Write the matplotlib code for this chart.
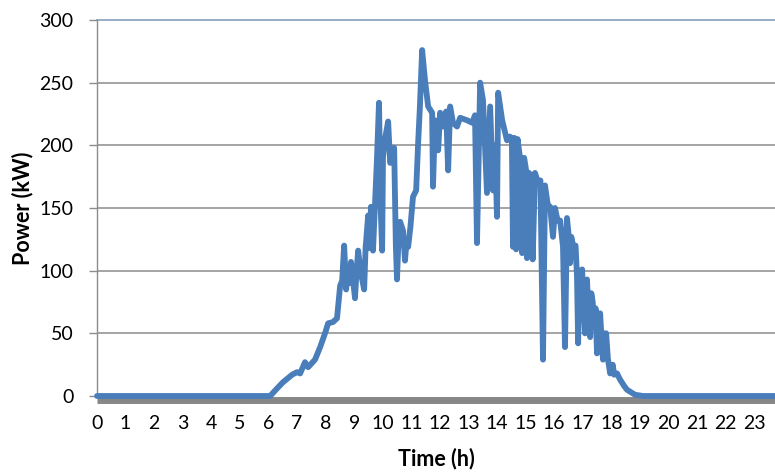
import matplotlib
matplotlib.use("Agg")
import matplotlib.pyplot as plt

hours = [0.0, 6.0, 6.06, 6.30, 6.51, 6.83, 7.00, 7.11, 7.28, 7.39, 7.63, 7.81, 7.98, 8.09, 8.26, 8.40,
         8.51, 8.58, 8.65, 8.72, 8.78, 8.84, 8.89, 8.95, 9.03, 9.08, 9.14, 9.22, 9.35, 9.40,
         9.49, 9.53, 9.59, 9.66, 9.73, 9.80, 9.87, 9.93, 9.98, 10.01, 10.08,
         10.19, 10.26, 10.33, 10.40, 10.46, 10.50, 10.56, 10.61, 10.71, 10.78, 10.84, 10.89,
         10.97, 11.06, 11.17, 11.24, 11.30, 11.38,
         11.48, 11.59, 11.73, 11.76, 11.83, 11.94, 12.01, 12.11, 12.22, 12.29, 12.36, 12.46,
         12.60, 12.71, 12.95, 13.13, 13.23, 13.30, 13.41, 13.51, 13.58, 13.65, 13.76, 13.82,
         13.86, 13.93, 14.00, 14.04, 14.18, 14.35, 14.45, 14.52, 14.56, 14.60, 14.67, 14.72,
         14.80, 14.88, 14.95, 15.02, 15.05, 15.12, 15.20, 15.25, 15.33, 15.44, 15.52, 15.61,
         15.68, 15.78, 15.86, 15.96, 16.03, 16.12, 16.21, 16.31, 16.38, 16.45, 16.50, 16.56,
         16.60, 16.68, 16.75, 16.80, 16.84, 16.88, 16.93, 16.98, 17.03, 17.08, 17.12, 17.15,
         17.20, 17.26, 17.30, 17.35, 17.40, 17.45, 17.50, 17.55, 17.61, 17.66, 17.71, 17.76,
         17.82, 17.88, 17.96, 18.05, 18.10, 18.20, 18.31, 18.45, 18.55, 18.83, 19.11, 23.73]
power_kw = [0, 0, 0, 6, 11, 17, 19, 18, 27, 23, 29, 39, 50, 58, 59, 62,
            88, 92, 120, 85, 100, 90, 107, 95, 78, 98, 116, 100, 85, 118,
            144, 118, 151, 116, 154, 190, 234, 150, 116, 191, 205,
            219, 186, 190, 198, 120, 93, 130, 139, 132, 108, 125, 119,
            135, 159, 164, 202, 230, 276,
            252, 231, 226, 167, 220, 196, 226, 215, 227, 180, 231, 218,
            215, 222, 220, 218, 224, 122, 250, 236, 200, 162, 231, 190,
            164, 200, 143, 242, 220, 204, 207, 205, 119, 206, 117, 205,
            191, 114, 190, 180, 110, 178, 175, 109, 178, 170, 172, 29,
            168, 152, 151, 127, 150, 140, 140, 119, 39, 142, 130, 106,
            127, 118, 120, 95, 42, 100, 85, 101, 70, 50, 90, 93,
            65, 47, 82, 75, 55, 70, 34, 60, 66, 45, 29, 50,
            50, 30, 18, 25, 17, 18, 13, 8, 5, 1, 0, 0]
x_ticks = list(range(0, 24))
y_ticks = [0, 50, 100, 150, 200, 250, 300]

plt.rcParams['font.family'] = ['Lato', 'DejaVu Sans']

fig = plt.figure(figsize=(7.75, 4.74), dpi=100)
ax = fig.add_axes([97/775, (474-396)/474, (775-97)/775, (396-20)/474])

for v in y_ticks[1:-1]:
    ax.axhline(v, color='#8c8c8c', lw=1.1, zorder=1)
ax.axhline(y_ticks[-1], color='#8fa6c4', lw=1.3, zorder=1, clip_on=False)

ax.plot(hours, power_kw, color='#4a7ebb', lw=4.2, solid_joinstyle='round',
        solid_capstyle='round', zorder=4, clip_on=False)

ax.set_xlim(0, 23.73)
ax.set_ylim(0, 300)
ax.set_xticks(x_ticks)
ax.set_xticklabels([str(t) for t in x_ticks])
ax.set_yticks(y_ticks)

for s in ['top', 'right']:
    ax.spines[s].set_visible(False)
ax.spines['left'].set_color('#8c8c8c')
ax.spines['left'].set_linewidth(1.0)
ax.spines['bottom'].set_color('#878787')
ax.spines['bottom'].set_linewidth(5)
ax.spines['bottom'].set_position(('outward', 3))
ax.spines['bottom'].set_zorder(3)
ax.spines['bottom'].set_capstyle('butt')

ax.tick_params(axis='x', length=0, pad=11, labelsize=14, colors='black')
ax.tick_params(axis='y', direction='out', length=6, width=1.0, color='#8c8c8c',
               pad=11, labelsize=14, labelcolor='black')

ax.set_xlabel('Time (h)', fontsize=15.5, fontweight='bold', labelpad=11)
ax.set_ylabel('Power (kW)', fontsize=15.5, fontweight='bold')
ax.yaxis.set_label_coords(-0.094, 0.5)

fig.savefig('out.png', dpi=100)
